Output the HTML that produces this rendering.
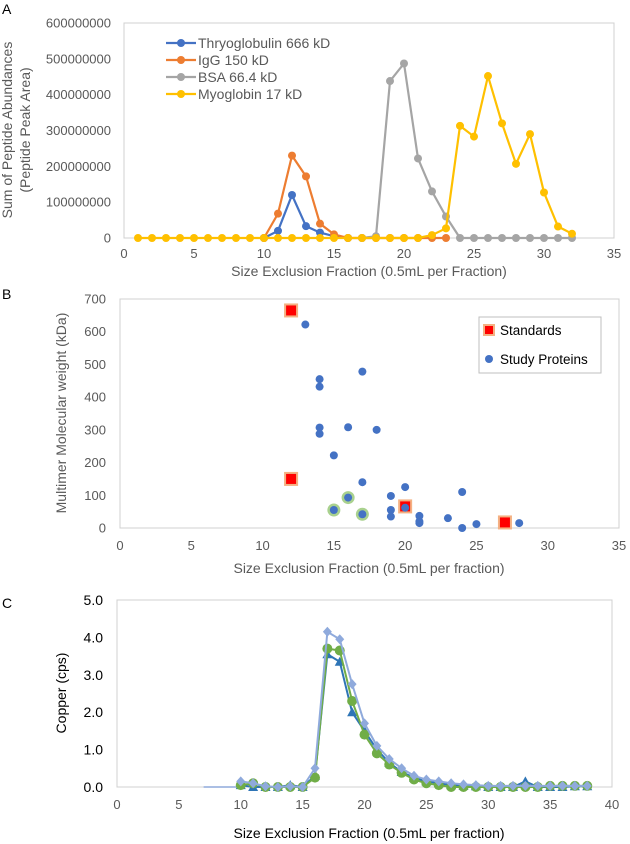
<!DOCTYPE html>
<html><head><meta charset="utf-8"><style>
html,body{margin:0;padding:0;background:#fff}
svg{display:block;font-family:"Liberation Sans",sans-serif}
</style></head><body>
<svg id="s" width="630" height="844" viewBox="0 0 630 844" xmlns="http://www.w3.org/2000/svg"></svg>
<script>
// ---- Chart A data ----
const aThyX=[10,11,12,13,14,15,16];
const aThyY=[0,20e6,120e6,33e6,15e6,5e6,0];
const aIgGX=[10,11,12,13,14,15,16,17,18,19,20,21,22,23];
const aIgGY=[0,68e6,230e6,172e6,40e6,10e6,0,0,0,0,0,0,0,0];
const aBSAX=[17,18,19,20,21,22,23,24,25,26,27,28,29,30,31,32];
const aBSAY=[0,5e6,438e6,487e6,222e6,130e6,60e6,0,0,0,0,0,0,0,0,0];
const aMyoX=[1,2,3,4,5,6,7,8,9,10,11,12,13,14,15,16,17,18,19,20,21,22,23,24,25,26,27,28,29,30,31,32];
const aMyoY=[0,0,0,0,0,0,0,0,0,0,0,0,0,0,0,0,0,0,0,0,0,8e6,27e6,313e6,283e6,452e6,320e6,207e6,290e6,127e6,32e6,12e6];
const aXTicks=[0,5,10,15,20,25,30,35];
const aYTicks=[0,100000000,200000000,300000000,400000000,500000000,600000000];
const aLegend=["Thryoglobulin 666 kD","IgG 150 kD","BSA 66.4 kD","Myoglobin 17 kD"];
// ---- Chart B data ----
const bStdX=[12,12,20,27];
const bStdY=[665,150,66,17];
const bStuX=[13,14,14,17,14,14,16,18,15,17,20,24,16,19,15,20,17,19,19,21,21,21,23,24,25,28];
const bStuY=[622,455,432,478,307,288,308,300,222,140,125,110,93,98,55,62,42,55,35,37,20,15,30,0,12,15];
const bRingX=[15,16,17];
const bRingY=[55,93,42];
const bXTicks=[0,5,10,15,20,25,30,35];
const bYTicks=[0,100,200,300,400,500,600,700];
// ---- Chart C data ----
const cX=[10,11,12,13,14,15,16,17,18,19,20,21,22,23,24,25,26,27,28,29,30,31,32,33,34,35,36,37,38];
const cDia=[0.15,0.1,0.02,0,0.02,0,0.5,4.15,3.95,2.75,1.7,1.1,0.75,0.5,0.3,0.2,0.15,0.1,0.07,0.05,0.03,0.03,0.03,0.03,0.03,0.03,0.03,0.03,0.03];
const cTri=[0.05,0,0,0,0.05,0,0.3,3.55,3.35,2.0,1.5,1.0,0.65,0.4,0.25,0.15,0.1,0.05,0.03,0.02,0,0,0,0.15,0,0,0,0.02,0.02];
const cCir=[0.05,0.1,0,0,0,0,0.25,3.7,3.65,2.3,1.4,0.9,0.6,0.38,0.2,0.1,0.05,0,0,0,0,0,0,0,0,0.03,0.03,0.03,0.03];
const cXTicks=[0,5,10,15,20,25,30,35,40];
const cYTicks=[0,1,2,3,4,5];

const NS="http://www.w3.org/2000/svg";
const S=document.getElementById('s');
function el(t,a,p){const e=document.createElementNS(NS,t);for(const k in a)e.setAttribute(k,a[k]);(p||S).appendChild(e);return e;}
function txt(x,y,s,a){const e=el('text',Object.assign({x:x,y:y,'font-size':13,fill:'#595959'},a||{}));e.textContent=s;return e;}
function scale(d0,d1,r0,r1){return v=>r0+(v-d0)/(d1-d0)*(r1-r0);}

// ===== Chart A =====
(function(){
const X=scale(0,35,124,614),Y=scale(0,600e6,238,23);
const g=el('g',{});

txt(2,14,'A',{fill:'#000','font-size':14});
const b=el('rect',{x:124,y:23,width:490,height:215,fill:'none',stroke:'#d0d0d0'},g);

aYTicks.forEach(v=>{const t=txt(111,Y(v)+4.5,String(v),{'text-anchor':'end'},g);});
aXTicks.forEach(v=>{const t=txt(X(v),258,String(v),{'text-anchor':'middle'},g);});
const xt=txt(369,276,'Size Exclusion Fraction (0.5mL per Fraction)',{'text-anchor':'middle','font-size':14},g);

const yt=txt(0,0,'Sum of Peptide Abundances',{'text-anchor':'middle','font-size':14,transform:'translate(12,130) rotate(-90)'},g);

const yt2=txt(0,0,'(Peptide Peak Area)',{'text-anchor':'middle','font-size':14,transform:'translate(30,130) rotate(-90)'},g);

const ser=[[aThyX,aThyY,'#4472c4'],[aIgGX,aIgGY,'#ed7d31'],[aBSAX,aBSAY,'#a5a5a5'],[aMyoX,aMyoY,'#ffc000']];
const names=['series-thyroglobulin','series-igg','series-bsa','series-myoglobin'];
ser.forEach((s,i)=>{
 const sg=el('g',{},g);
 el('polyline',{points:s[0].map((x,j)=>X(x)+','+Y(s[1][j])).join(' '),fill:'none',stroke:s[2],'stroke-width':2.2},sg);
 s[0].forEach((x,j)=>{const c=el('circle',{cx:X(x),cy:Y(s[1][j]),r:4,fill:s[2]},sg);});
});
aLegend.forEach((n,i)=>{const y=43+i*17;const lg=el('g',{},g);
 el('line',{x1:166,y1:y,x2:196,y2:y,stroke:ser[i][2],'stroke-width':2.2},lg);el('circle',{cx:181,cy:y,r:4,fill:ser[i][2]},lg);
 txt(198,y+5,n,{'font-size':14},lg);});
})();

// ===== Chart B =====
(function(){
const X=scale(0,35,120,619),Y=scale(0,700,528,299);
const g=el('g',{});
txt(2,299,'B',{fill:'#000','font-size':14});
const b=el('rect',{x:120,y:299,width:499,height:229,fill:'none',stroke:'#d0d0d0'},g);

bYTicks.forEach(v=>{const t=txt(106,Y(v)+4.5,String(v),{'text-anchor':'end'},g);});
bXTicks.forEach(v=>{const t=txt(X(v),550,String(v),{'text-anchor':'middle'},g);});
const xt=txt(369,573,'Size Exclusion Fraction (0.5mL per fraction)',{'text-anchor':'middle','font-size':14},g);

const yt=txt(0,0,'Multimer Molecular weight  (kDa)',{'text-anchor':'middle','font-size':14,transform:'translate(66,413) rotate(-90)'},g);

bRingX.forEach((x,i)=>{const c=el('circle',{cx:X(x),cy:Y(bRingY[i]),r:6.5,fill:'#a9d18e'},g);});
bStdX.forEach((x,i)=>{const r=el('rect',{x:X(x)-6,y:Y(bStdY[i])-6,width:12,height:12,fill:'#ff0000',stroke:'#f4b183','stroke-width':2},g);});
bStuX.forEach((x,i)=>{const c=el('circle',{cx:X(x),cy:Y(bStuY[i]),r:4,fill:'#4472c4'},g);});
const lg=el('g',{},g);
el('rect',{x:479,y:317,width:122,height:56,fill:'#fff',stroke:'#bfbfbf'},lg);
el('rect',{x:484,y:325,width:10,height:10,fill:'#ff0000',stroke:'#f4b183','stroke-width':2},lg);
txt(500,335,'Standards',{'font-size':13.5,fill:'#000'},lg);
el('circle',{cx:489,cy:359,r:4,fill:'#4472c4'},lg);
txt(500,364,'Study Proteins',{'font-size':13.5,fill:'#000'},lg);
})();

// ===== Chart C =====
(function(){
const X=scale(0,40,117,612),Y=scale(0,5,787,600);
const g=el('g',{});
txt(2,608,'C',{fill:'#000','font-size':14});
const b=el('rect',{x:117,y:600,width:495,height:187,fill:'none',stroke:'#d0d0d0'},g);

cYTicks.forEach(v=>{const t=txt(103,Y(v)+5,v.toFixed(1),{'text-anchor':'end','font-size':14,fill:'#000'},g);});
cXTicks.forEach(v=>{const t=txt(X(v),809,String(v),{'text-anchor':'middle'},g);});
const xt=txt(369,838,'Size Exclusion Fraction (0.5mL per fraction)',{'text-anchor':'middle','font-size':14,fill:'#000'},g);

const yt=txt(0,0,'Copper (cps)',{'text-anchor':'middle','font-size':14,fill:'#000',transform:'translate(66,693) rotate(-90)'},g);

// lead-in line
el('line',{x1:X(7),y1:Y(0),x2:X(10),y2:Y(0),stroke:'#8faadc','stroke-width':1.5},g);
function series(vals,col,shape,name,w){
 const sg=el('g',{},g);
 el('polyline',{points:cX.map((x,j)=>X(x)+','+Y(vals[j])).join(' '),fill:'none',stroke:col,'stroke-width':w},sg);
 cX.forEach((x,j)=>{const cx=X(x),cy=Y(vals[j]);let m;
  if(shape==='c')m=el('circle',{cx:cx,cy:cy,r:5,fill:col},sg);
  else if(shape==='t')m=el('polygon',{points:`${cx},${cy-5} ${cx-5},${cy+4} ${cx+5},${cy+4}`,fill:col},sg);
  else m=el('polygon',{points:`${cx},${cy-5} ${cx+4.5},${cy} ${cx},${cy+5} ${cx-4.5},${cy}`,fill:col},sg);
  });
}
series(cTri,'#2e75b6','t','series-triangle',2);
series(cCir,'#70ad47','c','series-circle',2);
series(cDia,'#8faadc','d','series-diamond',2);
})();
</script>
</body></html>
